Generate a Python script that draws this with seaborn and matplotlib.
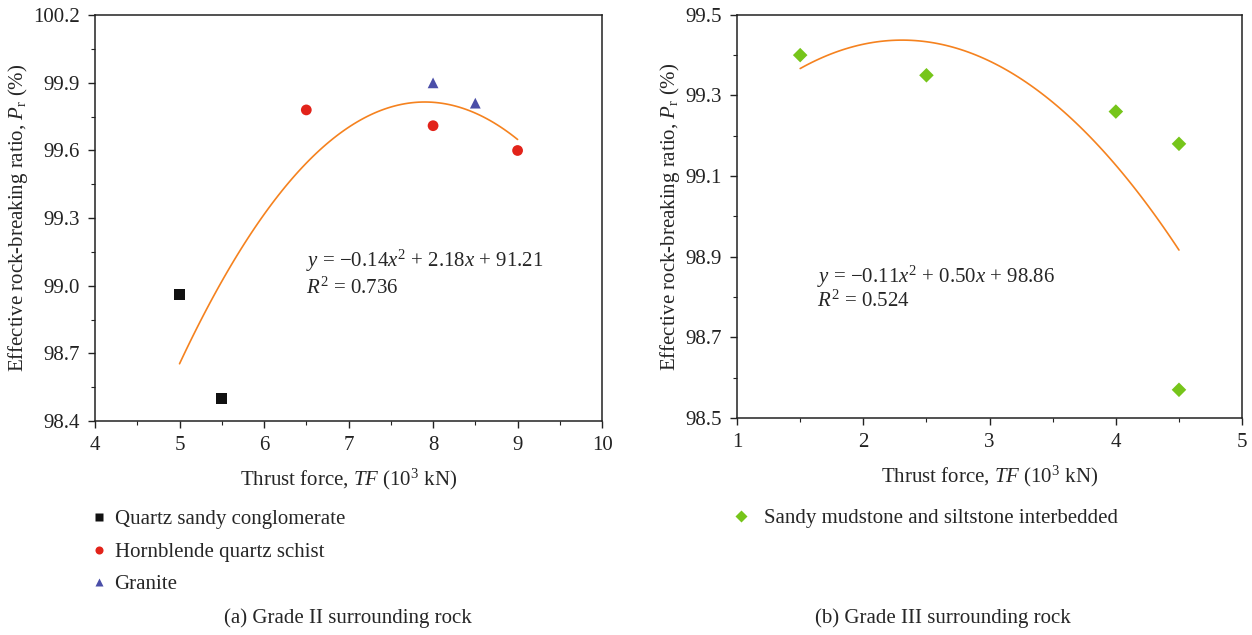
import matplotlib
matplotlib.use("Agg")
import matplotlib.pyplot as plt
from matplotlib.ticker import MultipleLocator
import seaborn as sns
import pandas as pd

# ---- data ----
# (a) Grade II surrounding rock
quartz_tf = [5.0, 5.5]
quartz_pr = [98.96, 98.50]
hornblende_tf = [6.5, 8.0, 9.0]
hornblende_pr = [99.78, 99.71, 99.60]
granite_tf = [8.0, 8.5]
granite_pr = [99.90, 99.81]
eq_a = r"$y$ = −0.14$x^2$ + 2.18$x$ + 91.21"
r2_a = r"$R^2$ = 0.736"

# (b) Grade III surrounding rock
sandy_tf = [1.5, 2.5, 4.0, 4.5, 4.5]
sandy_pr = [99.40, 99.35, 99.26, 99.18, 98.57]
eq_b = r"$y$ = −0.11$x^2$ + 0.50$x$ + 98.86"
r2_b = r"$R^2$ = 0.524"

rock_names = ["Quartz sandy conglomerate", "Hornblende quartz schist", "Granite"]
rock_colors = {"Quartz sandy conglomerate": "#111111",
               "Hornblende quartz schist": "#e2231a",
               "Granite": "#4a4ea8"}
rock_markers = {"Quartz sandy conglomerate": "s",
                "Hornblende quartz schist": "o",
                "Granite": "^"}
green = "#76c51a"
orange = "#f5821f"

df_a = pd.DataFrame({
    "tf": quartz_tf + hornblende_tf + granite_tf,
    "pr": quartz_pr + hornblende_pr + granite_pr,
    "rock": [rock_names[0]] * len(quartz_tf) + [rock_names[1]] * len(hornblende_tf)
            + [rock_names[2]] * len(granite_tf),
})
df_b = pd.DataFrame({"tf": sandy_tf, "pr": sandy_pr,
                     "rock": ["Sandy mudstone and siltstone interbedded"] * len(sandy_tf)})

sns.set_theme(style="ticks")
plt.rcParams["font.family"] = ["Liberation Serif", "DejaVu Serif"]
plt.rcParams["mathtext.fontset"] = "custom"
plt.rcParams["mathtext.rm"] = "Liberation Serif"
plt.rcParams["mathtext.it"] = "Liberation Serif:italic"
plt.rcParams["axes.edgecolor"] = "#222222"
plt.rcParams["axes.linewidth"] = 1.1

fs = 15
fig = plt.figure(figsize=(12.52, 6.35), dpi=100)
ax1 = fig.add_axes([0.0759, 0.337, 0.405, 0.639])
ax2 = fig.add_axes([0.5887, 0.3417, 0.4034, 0.635])

# --- (a) ---
sns.regplot(data=df_a, x="tf", y="pr", order=2, ci=None, scatter=False, ax=ax1,
            line_kws={"color": orange, "lw": 1.2})
sns.scatterplot(data=df_a, x="tf", y="pr", hue="rock", style="rock",
                palette=rock_colors, markers=rock_markers, s=60, edgecolor="none", ax=ax1)
ax1.set_xlim(4, 10)
ax1.set_ylim(98.4, 100.2)
ax1.xaxis.set_major_locator(MultipleLocator(1))
ax1.xaxis.set_minor_locator(MultipleLocator(0.5))
ax1.yaxis.set_major_locator(MultipleLocator(0.3))
ax1.yaxis.set_minor_locator(MultipleLocator(0.15))
ax1.text(6.5, 99.11, eq_a, fontsize=fs, va="center")
ax1.text(6.5, 98.99, r2_a, fontsize=fs, va="center")
leg1 = ax1.legend(loc="upper left", bbox_to_anchor=(0.074, 0.197), bbox_transform=fig.transFigure,
                  frameon=False, fontsize=fs, handlelength=0.6, handletextpad=0.45,
                  labelspacing=0.62, markerscale=0.75, borderaxespad=0, borderpad=0)

# --- (b) ---
sns.regplot(data=df_b, x="tf", y="pr", order=2, ci=None, scatter=False, ax=ax2,
            line_kws={"color": orange, "lw": 1.2})
sns.scatterplot(data=df_b, x="tf", y="pr", hue="rock", palette=[green], marker="D",
                s=55, edgecolor="none", ax=ax2)
ax2.set_xlim(1, 5)
ax2.set_ylim(98.5, 99.5)
ax2.xaxis.set_major_locator(MultipleLocator(1))
ax2.xaxis.set_minor_locator(MultipleLocator(0.5))
ax2.yaxis.set_major_locator(MultipleLocator(0.2, offset=0.1))
ax2.yaxis.set_minor_locator(MultipleLocator(0.1))
ax2.text(1.63, 98.85, eq_b, fontsize=fs, va="center")
ax2.text(1.63, 98.79, r2_b, fontsize=fs, va="center")
leg2 = ax2.legend(loc="upper left", bbox_to_anchor=(0.587, 0.199), bbox_transform=fig.transFigure,
                  frameon=False, fontsize=fs, handlelength=0.6, handletextpad=0.8,
                  markerscale=0.8, borderaxespad=0, borderpad=0)

for ax in (ax1, ax2):
    ax.set_xlabel(r"Thrust force, $TF$ (10$^3$ kN)", fontsize=fs, labelpad=8)
    ax.set_ylabel(r"Effective rock-breaking ratio, $P_\mathrm{r}$ (%)", fontsize=fs, labelpad=2)
    ax.tick_params(which="both", direction="out", labelsize=fs, colors="#222222")
    ax.tick_params(which="major", length=5, width=1, pad=6)
    ax.tick_params(which="minor", length=3, width=0.8)
    for side in ("top", "right"):
        ax.spines[side].set_visible(True)

fig.text(0.278, 0.027, "(a) Grade II surrounding rock", ha="center", va="center", fontsize=fs)
fig.text(0.753, 0.027, "(b) Grade III surrounding rock", ha="center", va="center", fontsize=fs)

fig.savefig("out.png", dpi=100, facecolor="white")
